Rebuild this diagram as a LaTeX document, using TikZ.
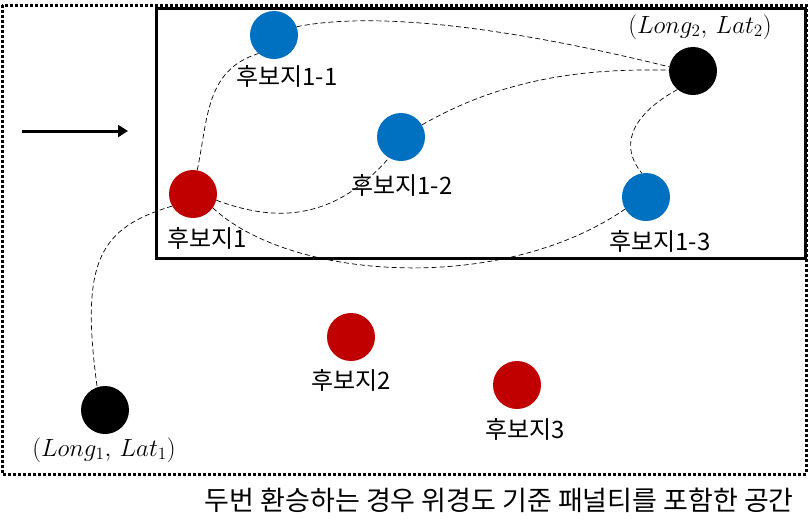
\documentclass[tikz,border=0pt]{standalone}
\usepackage{fontspec}
\newfontfamily\kr{Noto Sans CJK KR}
\usetikzlibrary{arrows.meta}
\definecolor{cblue}{HTML}{0070C0}
\definecolor{cred}{HTML}{C00000}
\tikzset{
  dot/.style={circle,minimum size=48pt,inner sep=0pt},
  bdot/.style={dot,fill=cblue},
  rdot/.style={dot,fill=cred},
  kdot/.style={dot,fill=black},
  lbl/.style={font=\kr\fontsize{24}{24}\selectfont,inner sep=0pt},
  mlbl/.style={font=\fontsize{20}{20}\selectfont,inner sep=0pt,scale=1.2},
  path/.style={dashed,line width=0.7pt,dash pattern=on 5pt off 3pt}
}
\begin{document}
\begin{tikzpicture}[x=1pt,y=-1pt]
\useasboundingbox (0,0) rectangle (810,531);
\draw[line width=3pt,dotted] (2,5) rectangle (806,474);
\draw[line width=3pt] (156,8) rectangle (805,258);
\coordinate (as) at (22,131);
\coordinate (ae) at (128,131);
\draw[line width=3pt,-{Triangle[length=10pt,width=12pt]}] (as) -- (ae);

\node[bdot] (c11) at (274,35) {};
\node[kdot] (k2) at (693,71) {};
\node[bdot] (c12) at (401,137) {};
\node[rdot] (c1) at (193,194) {};
\node[bdot] (c13) at (646,197) {};
\node[rdot] (c2) at (351,337) {};
\node[rdot] (c3) at (517,385) {};
\node[kdot] (k1) at (105,410) {};

\node[lbl] (l11) at (287,76) {후보지1-1};
\node[lbl] (l12) at (402,185) {후보지1-2};
\node[lbl] (l1) at (207,238) {후보지1};
\node[lbl] (l13) at (660,241) {후보지1-3};
\node[lbl] (l2) at (351,380) {후보지2};
\node[lbl] (l3) at (525,429) {후보지3};
\node[mlbl] (m2) at (700,27) {$(Long_2,\,Lat_2)$};
\node[mlbl] (m1) at (104,450) {$(Long_1,\,Lat_1)$};
\node[font=\kr\fontsize{27}{27}\selectfont,inner sep=0pt,anchor=east] (cap) at (794,500) {두번 환승하는 경우 위경도 기준 패널티를 포함한 공간};

\draw[path] (c1.80) .. controls (208,120) and (205,70) .. (c11.230);
\draw[path] (c11.20) .. controls (380,10) and (520,30) .. (k2.170);
\draw[path] (c1.-15) .. controls (270,220) and (330,225) .. (c12.240);
\draw[path] (c12.30) .. controls (500,80) and (580,68) .. (k2.178);
\draw[path] (k2.230) .. controls (640,110) and (615,140) .. (c13.100);
\draw[path] (c1.-35) .. controls (290,280) and (500,295) .. (c13.210);
\draw[path] (c1.210) .. controls (100,228) and (80,260) .. (97,386);
\end{tikzpicture}
\end{document}
